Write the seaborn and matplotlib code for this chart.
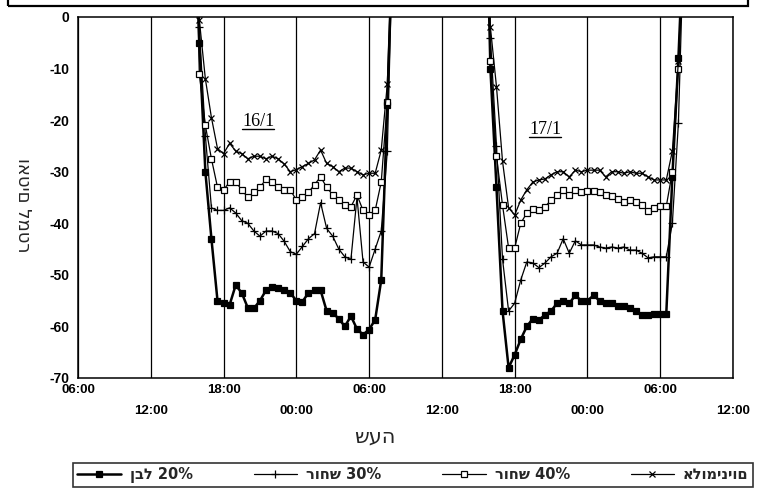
import numpy as np
import pandas as pd
import matplotlib
matplotlib.use("Agg")
import matplotlib.pyplot as plt
import seaborn as sns
from matplotlib.lines import Line2D
from matplotlib.patches import Rectangle

# ---------------- data ----------------
# hours counted from 06:00 of 16/1 ; readings every 30 min (first/last entries run off-scale)
hours_d1 = np.r_[9.75, np.arange(10.0, 26.01, 0.5)]
hours_d2 = np.r_[33.75, np.arange(34.0, 50.01, 0.5)]

white20_d1 = [15, -5, -30, -43, -55, -55.5, -55.8, -52, -53.5, -56.4, -56.5,
              -55, -53, -52.3, -52.5, -52.9, -53.5, -55, -55.2, -53.5, -53,
              -53, -57, -57.4, -58.5, -60, -58, -60.5, -61.6, -60.6, -58.7,
              -51, -17, 20]
black30_d1 = [15, -2, -23, -37, -37.5, -37.5, -37, -38, -39.5, -40, -41.5,
              -42.5, -41.5, -41.5, -42, -43.5, -45.5, -46, -44.5, -43, -42,
              -36, -41, -42.5, -45, -46.5, -47, -35, -47.5, -48.5, -45,
              -41.5, -26, 20]
black40_d1 = [15, -11, -21, -27.5, -33, -33.5, -32, -32, -33.5, -35, -34,
              -33, -31.5, -32, -33, -33.5, -33.5, -35.5, -35, -34, -32.5,
              -31, -33, -34.5, -35.5, -36.4, -36.8, -34.5, -37.5, -38.4, -37.5,
              -32, -16.5, 20]
alu_d1 = [15, -0.5, -12, -19.5, -25.5, -26.5, -24.5, -26, -26.5, -27.5, -27,
          -27, -27.5, -27, -27.5, -28.5, -30, -29.6, -29, -28.4, -27.7,
          -25.8, -28.4, -29, -30, -29.3, -29.3, -30, -30.6, -30.3, -30.3,
          -25.8, -13, 20]

white20_d2 = [15, -10, -33, -57, -68, -65.5, -62.5, -60, -58.5, -58.7, -57.8,
              -57, -55.5, -55, -55.5, -54, -55, -55, -54, -55, -55.5,
              -55.5, -56, -56, -56.5, -57, -57.8, -57.8, -57.5, -57.5, -57.5,
              -31, -8, 20]
black30_d2 = [15, -4, -25, -47, -57, -55.5, -51, -47.5, -47.7, -48.6, -47.7,
              -46.5, -45.8, -43, -45.8, -43.4, -44.2, -44.2, -44.2, -44.6, -44.8,
              -44.6, -44.8, -44.6, -45.2, -45.2, -45.8, -46.7, -46.5, -46.5, -46.5,
              -40, -20.5, 20]
black40_d2 = [15, -8.5, -27, -36.5, -44.8, -44.8, -40, -38, -37.2, -37.5, -36.8,
              -35.5, -34.5, -33.5, -34.5, -33.5, -34, -33.8, -33.8, -34, -34.5,
              -34.8, -35.2, -35.8, -35.5, -35.8, -36.4, -37.7, -37, -36.7, -36.7,
              -30, -10, 20]
alu_d2 = [15, -2, -13.5, -28, -37, -38.4, -35.5, -33.5, -32, -31.6, -31.4,
          -30.6, -30, -30, -31, -29.7, -30, -29.7, -29.7, -29.7, -31,
          -30, -30, -30.3, -30, -30.3, -30.3, -31, -31.6, -31.6, -31.6,
          -26, -8.5, 20]

series_names = ["ןבל 20%", "רוחש 30%", "רוחש 40%", "אלומיניום"]
tick_hours = [0, 6, 12, 18, 24, 30, 36, 42, 48, 54]
tick_labels = ["06:00", "12:00", "18:00", "00:00", "06:00",
               "12:00", "18:00", "00:00", "06:00", "12:00"]
y_ticks = [0, -10, -20, -30, -40, -50, -60, -70]
day_labels = ["16/1", "17/1"]

# ---------------- table ----------------
rows = []
for name, d1, d2 in zip(series_names,
                        [white20_d1, black30_d1, black40_d1, alu_d1],
                        [white20_d2, black30_d2, black40_d2, alu_d2]):
    for h, v in zip(hours_d1, d1):
        rows.append((name, "16/1", h, v))
    for h, v in zip(hours_d2, d2):
        rows.append((name, "17/1", h, v))
df = pd.DataFrame(rows, columns=["series", "day", "hour", "value"])

# ---------------- style ----------------
sns.set_style("white")
plt.rcParams["font.family"] = ["DejaVu Sans"]

styles = {
    series_names[0]: dict(marker="s", ms=5, mfc="black", lw=1.8),
    series_names[1]: dict(marker="+", ms=6, mfc="black", lw=0.9),
    series_names[2]: dict(marker="s", ms=5, mfc="white", lw=0.9),
    series_names[3]: dict(marker="x", ms=5, mfc="black", lw=0.9),
}

fig = plt.figure(figsize=(7.67, 5.0), dpi=100)
fig.patch.set_facecolor("white")
ax = fig.add_axes([78 / 767, 1 - 378 / 500, (733 - 78) / 767, (378 - 17) / 500])

for name in series_names:
    st = styles[name]
    sns.lineplot(data=df[df.series == name], x="hour", y="value", units="day",
                 estimator=None, sort=False, color="black", ax=ax, legend=False,
                 marker=st["marker"], ms=st["ms"], mfc=st["mfc"], mec="black",
                 mew=0.9, lw=st["lw"])

ax.set_xlim(0, 54)
ax.set_ylim(-70, 0)
ax.set_xlabel("")
ax.set_ylabel("")

ax.set_xticks(tick_hours)
ax.set_xticklabels([lab if i % 2 == 0 else "\n" + lab for i, lab in enumerate(tick_labels)],
                   fontfamily="Liberation Sans", fontweight="bold", fontsize=9.5,
                   linespacing=2.0)
ax.set_xticks(np.arange(0, 55, 1), minor=True)
ax.set_yticks(y_ticks)
ax.set_yticklabels([str(v) for v in y_ticks], fontfamily="Liberation Sans",
                   fontweight="bold", fontsize=10)
ax.tick_params(axis="both", which="major", direction="out", length=4, width=1,
               color="black", labelcolor="black", pad=2)
ax.tick_params(axis="x", which="minor", direction="out", length=3, width=1, color="black")
ax.tick_params(axis="x", which="major", pad=0)
ax.grid(axis="x", which="major", color="black", lw=0.9)
ax.grid(axis="y", visible=False)
for sp in ax.spines.values():
    sp.set_visible(True)
    sp.set_color("black")
    sp.set_linewidth(1.1)

# day annotations
day_texts = []
for lab, hx, vy in zip(day_labels, [14.85, 38.5], [-20.3, -21.9]):
    day_texts.append(ax.text(hx, vy, lab, ha="center", va="center",
                             fontfamily="Liberation Serif", fontsize=13, color="black"))

# axis titles
fig.text(375 / 767, 1 - 437 / 500, "שעה", ha="center", va="center", fontsize=15,
         fontfamily="DejaVu Sans")
fig.text(23 / 767, 1 - 205 / 500, "ואטים למטר", ha="center", va="center",
         rotation=270, fontsize=13, fontfamily="DejaVu Sans")

# legend
handles = [Line2D([], [], color="black", lw=styles[n]["lw"], marker=styles[n]["marker"],
                  ms=styles[n]["ms"], mfc=styles[n]["mfc"], mec="black", mew=0.9)
           for n in series_names]
leg = fig.legend(handles, series_names, loc="center", ncol=4, mode="expand",
                 bbox_to_anchor=(73 / 767, 1 - 488 / 500, 680 / 767, 26 / 500),
                 borderaxespad=0, frameon=True, fancybox=False, edgecolor="black",
                 handlelength=3, handletextpad=0.6, columnspacing=1.0,
                 prop={"family": "DejaVu Sans", "weight": "bold", "size": 10.5},
                 borderpad=0.3)
leg.get_frame().set_linewidth(1.2)

# top frame (partial box above the plot)
fig.add_artist(Rectangle((8 / 767, 1 - 6 / 500), 740 / 767, 0.05,
                         transform=fig.transFigure, fill=False, lw=1.6,
                         edgecolor="black", clip_on=False))

# underline the day labels
fig.canvas.draw()
inv = fig.transFigure.inverted()
for t in day_texts:
    bb = t.get_window_extent()
    (x0, y0), (x1, _) = inv.transform([(bb.x0, bb.y0 + 1), (bb.x1, bb.y0)])
    fig.add_artist(Line2D([x0, x1], [y0, y0], transform=fig.transFigure,
                          color="black", lw=1.0))

fig.savefig("out.png", dpi=100, facecolor="white")
